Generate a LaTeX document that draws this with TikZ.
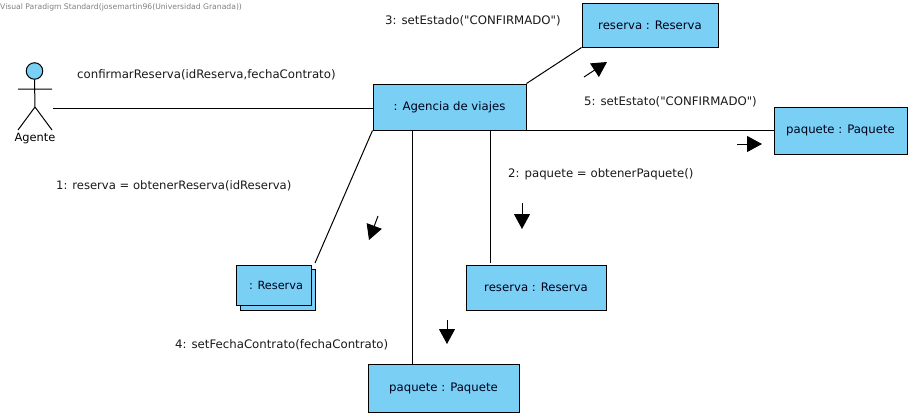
\documentclass[tikz,border=0pt]{standalone}
\usepackage{fontspec}
\newfontfamily\dvplain{DejaVu Sans}
\setmainfont{DejaVu Sans}
\usetikzlibrary{arrows.meta,calc}
\definecolor{boxblue}{RGB}{122,207,245}
\tikzset{
  obj/.style={draw=black,fill=boxblue,line width=1pt,inner sep=0pt,align=center,font=\dvplain\fontsize{11.7}{14}\selectfont,text=black!90!blue},
  lbl/.style={anchor=west,inner sep=0pt,font=\dvplain\fontsize{11.75}{14}\selectfont,text=black!90},
  link/.style={draw=black,line width=1pt},
  dir/.style={draw=black,line width=1pt,-{Triangle[length=15pt,width=16pt]}},
  stick/.style={draw=black,line width=1pt},
}
\begin{document}
\begin{tikzpicture}[x=1pt,y=-1pt]
\useasboundingbox (0,0) rectangle (911,416);
\node[anchor=west,inner sep=0pt,font=\dvplain\fontsize{7.65}{9}\selectfont,text=black!50] (wm) at (0,7) {Visual Paradigm Standard(josemartin96(Universidad Granada))};
% actor
\node[circle,draw=black,fill=boxblue,line width=1pt,minimum size=16.5pt,inner sep=0pt] (head) at (34.5,71) {};
\coordinate (hip) at (35,107);
\coordinate (armL) at (18,89);
\coordinate (armR) at (52,89);
\coordinate (footL) at (18,130);
\coordinate (footR) at (52,130);
\draw[stick] (head.south) -- (hip) (armL) -- (armR) (footL) -- (hip) -- (footR);
\node[inner sep=0pt,font=\dvplain\fontsize{11.4}{14}\selectfont] (agente) at (35,139) {Agente};
\coordinate (agenteEnd) at (53,108);
% objects
\node[obj,minimum width=153pt,minimum height=46pt] (agencia) at (449.5,107) {: Agencia de viajes};
\node[obj,minimum width=136pt,minimum height=44pt] (resTop) at (650,25) {reserva : Reserva};
\node[obj,minimum width=133pt,minimum height=47pt] (paqRight) at (840.5,130.5) {paquete : Paquete};
\node[obj,minimum width=75pt,minimum height=41pt] (multiBack) at (277.5,289.5) {};
\node[obj,minimum width=75pt,minimum height=40pt,font=\dvplain\fontsize{11.3}{14}\selectfont] (multi) at (273.5,285) {\hspace*{5pt}: Reserva};
\node[obj,minimum width=140pt,minimum height=45pt] (resBot) at (536,287.5) {reserva : Reserva};
\node[obj,minimum width=151pt,minimum height=48pt] (paqBot) at (443.5,388) {paquete : Paquete};
% connectors
\coordinate (m1) at (315,263);
\coordinate (m2) at (490,263);
\coordinate (m3) at (412,364);
\path[link] (agenteEnd) -- (agenteEnd -| agencia.west);
\path[link] (agencia.north east) -- (resTop.south west);
\path[link] (agencia.south east) -- (paqRight.west |- agencia.south);
\path[link] (agencia.south west) -- (m1);
\path[link] (m3) -- (m3 |- agencia.south);
\path[link] (m2) -- (m2 |- agencia.south);
% labels
\node[lbl] (l0) at (77,74.5) {confirmarReserva(idReserva,fechaContrato)};
\node[lbl] (l3) at (385,21) {3: setEstado("CONFIRMADO")};
\node[lbl] (l5) at (584,102) {5: setEstato("CONFIRMADO")};
\node[lbl,font=\dvplain\fontsize{11.6}{14}\selectfont] (l1) at (56,186) {1: reserva = obtenerReserva(idReserva)};
\node[lbl] (l2) at (508,174) {2: paquete = obtenerPaquete()};
\node[lbl] (l4) at (175,345) {4: setFechaContrato(fechaContrato)};
% direction arrows
\coordinate (a1s) at (378,216); \coordinate (a1e) at (369,240);
\coordinate (a2s) at (522,203); \coordinate (a2e) at (522,229);
\coordinate (a3s) at (584,77); \coordinate (a3e) at (607,62);
\coordinate (a4s) at (447,320); \coordinate (a4e) at (447,344);
\coordinate (a5s) at (737,144); \coordinate (a5e) at (762,144);
\draw[dir] (a1s) -- (a1e);
\draw[dir] (a2s) -- (a2e);
\draw[dir] (a3s) -- (a3e);
\draw[dir] (a4s) -- (a4e);
\draw[dir] (a5s) -- (a5e);
\end{tikzpicture}
\end{document}
